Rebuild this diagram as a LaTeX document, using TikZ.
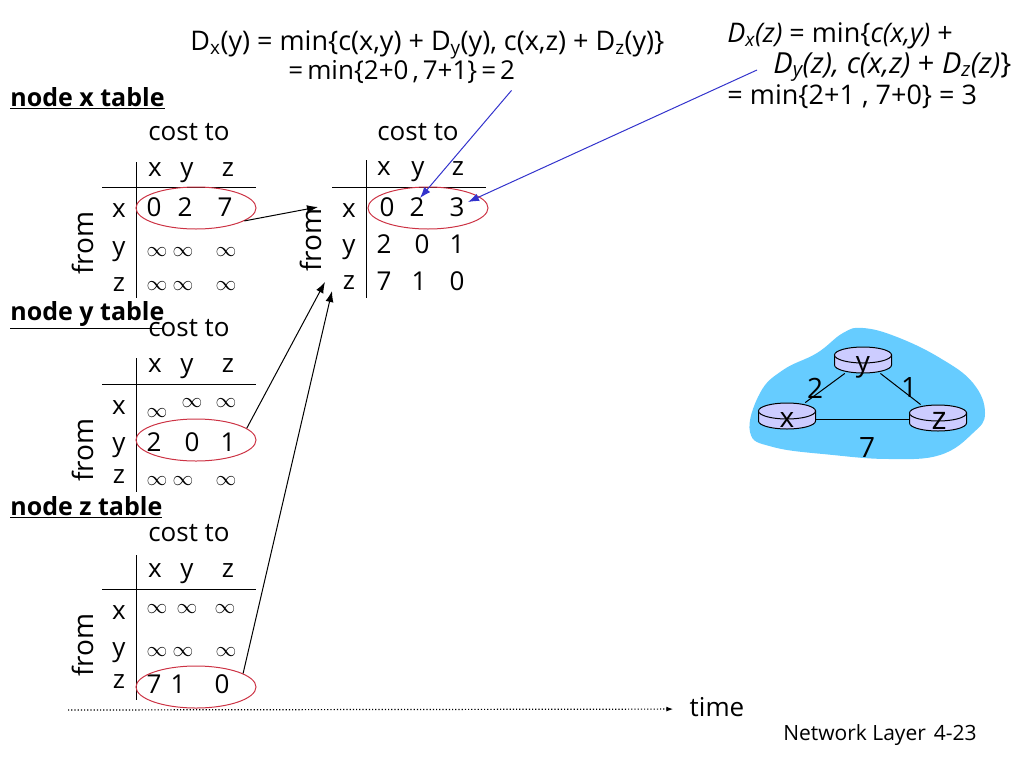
\documentclass[tikz,border=0pt]{standalone}
\usepackage{fontspec}
\setmainfont{Open Sans}
\usetikzlibrary{shapes.geometric,arrows.meta}
\definecolor{cloudblue}{HTML}{66CCFF}
\definecolor{routerlav}{HTML}{CCCCFF}
\definecolor{ringred}{HTML}{CC3344}
\definecolor{noteblue}{HTML}{3333CC}
\tikzset{
  cell/.style={inner sep=0pt, text height=17pt, text depth=1pt, font=\fontsize{26}{26}\selectfont},
  infcell/.style={inner sep=0pt, font=\fontsize{22}{22}\selectfont},
  fromlbl/.style={cell, rotate=90, font=\fontsize{28}{28}\selectfont},
  title/.style={inner sep=0pt, anchor=west, text height=17pt, text depth=0pt, font=\fontsize{25}{25}\selectfont\bfseries},
  note/.style={inner sep=0pt, anchor=west, text height=19pt, text depth=3pt, font=\fontsize{27}{27}\selectfont},
  ring/.style={draw=ringred, line width=1pt, ellipse, inner sep=0pt, minimum width=120pt, minimum height=42pt},
  routerhit/.style={inner sep=0pt, minimum width=57pt, minimum height=26pt},
  routerpic/.pic={
    \filldraw [fill=routerlav, line width=1pt] (-28.5,-5) -- (-28.5,5)
      arc [start angle=180, end angle=0, x radius=28.5, y radius=8] -- (28.5,-5) -- cycle;
    \filldraw [fill=routerlav, line width=1pt] (0,-5) ellipse [x radius=28.5, y radius=8];
  },
  netlbl/.style={inner sep=0pt, font=\fontsize{28}{28}\selectfont},
  netcost/.style={inner sep=0pt, font=\fontsize{28}{28}\selectfont},
  redge/.style={black, line width=1pt},
  toarrow/.style={-{Latex[length=11pt,width=8pt]}, line width=1pt},
  notearrow/.style={-{Latex[length=11pt,width=8pt]}, draw=noteblue, line width=1pt}
}
\begin{document}
\begin{tikzpicture}[x=1pt,y=-1pt,line width=0.9pt]
    \useasboundingbox (0,0) rectangle (1024,768);

    % network cloud
    \fill[cloudblue] plot[smooth cycle, tension=0.7] coordinates {(863,328) (897,337) (940,358)
      (973,383) (985,413) (973,433) (940,455) (890,459) (833,455) (773,447) (750,432)
      (760,393) (783,370) (817,353) (843,333)};
    \node [routerhit] (ry) at (863,360) {};
    \node [routerhit] (rx) at (787,416) {};
    \node [routerhit] (rz) at (938,418) {};
    \draw [redge] (ry) -- (rx);
    \draw [redge] (ry) -- (rz);
    \draw [redge] ([yshift=-3.5pt]rx.east) -- ([yshift=-1.5pt]rz.west);
    \pic at (ry) {routerpic};
    \pic at (rx) {routerpic};
    \pic at (rz) {routerpic};
    \node [netlbl] (lx) at (787,420) {x};
    \node [netlbl] (ly) at (863,367) {y};
    \node [netlbl, font=\fontsize{32}{32}\selectfont] (lz) at (939,421) {z};
    \node [netcost] (l2) at (815,388) {2};
    \node [netcost] (l1) at (909,388) {1};
    \node [netcost] (l7) at (867,447) {7};

    % formulas on top
    \node [note] (ymina) at (190,43) {D\textsubscript{x}(y) = min\{c(x,y) + D\textsubscript{y}(y), c(x,z) + D\textsubscript{z}(y)\}};
    \node [note, font=\fontsize{26}{26}\selectfont] (yminb) at (288,71) {\spaceskip=4pt = min\{2+0 , 7+1\} = 2};
    \node [note] (zmina) at (727,35) {\textit{D\textsubscript{x}(z)} = min\{\textit{c(x,y)} +};
    \node [note, font=\fontsize{29}{29}\selectfont] (zminb) at (773,65) {\textit{D\textsubscript{y}(z), c(x,z)} + \textit{D\textsubscript{z}(z)}\}};
    \node [note] (zminc) at (727,96) {= min\{2+1 , 7+0\} = 3};

    % node x table
    \node [title] (tx) at (10,98) {\underline{node x table}};
    \node [cell] (txcost) at (189,132) {cost to};
    \node [cell] (txhx) at (155,168) {x};
    \node [cell] (txhy) at (187,168) {y};
    \node [cell] (txhz) at (228,168) {z};
    \draw (102,187) -- (256,187);
    \draw (136,162) -- (136,298);
    \node [fromlbl] (txfrom) at (85,243) {from};
    \node [cell] (txrx) at (119,209) {x};
    \node [cell] (txry) at (119,247) {y};
    \node [cell] (txrz) at (119,283) {z};
    \node [cell] (txa) at (154,208) {0};
    \node [cell] (txb) at (185,208) {2};
    \node [cell] (txc) at (225,208) {7};
    \node [infcell] (txd) at (157,252) {$\infty$};
    \node [infcell] (txe) at (183,252) {$\infty$};
    \node [infcell] (txf) at (226,252) {$\infty$};
    \node [infcell] (txg) at (157,286) {$\infty$};
    \node [infcell] (txh) at (183,286) {$\infty$};
    \node [infcell] (txi) at (226,286) {$\infty$};
    \node [ring] (ex) at (196,208) {};

    % node x table, next step
    \node [cell] (bcost) at (418,132) {cost to};
    \node [cell] (bhx) at (384,167) {x};
    \node [cell] (bhy) at (418,167) {y};
    \node [cell] (bhz) at (458,167) {z};
    \draw (332,187) -- (486,187);
    \draw (366,160) -- (366,298);
    \node [fromlbl] (bfrom) at (313,240) {from};
    \node [cell] (brx) at (349,209) {x};
    \node [cell] (bry) at (349,245) {y};
    \node [cell] (brz) at (349,281) {z};
    \node [cell] (ba) at (387,208) {0};
    \node [cell] (bb) at (417,208) {2};
    \node [cell] (bc) at (457,208) {3};
    \node [cell] (bd) at (384,245) {2};
    \node [cell] (be) at (422,245) {0};
    \node [cell] (bf) at (457,245) {1};
    \node [cell] (bg) at (384,282) {7};
    \node [cell] (bh) at (419,282) {1};
    \node [cell] (bi) at (457,282) {0};
    \node [ring] (eb) at (428,208) {};

    % node y table
    \node [title] (ty) at (10,312) {\underline{node y table}};
    \node [cell] (tycost) at (189,328) {cost to};
    \node [cell] (tyhx) at (155,364) {x};
    \node [cell] (tyhy) at (187,364) {y};
    \node [cell] (tyhz) at (228,364) {z};
    \draw (102,384) -- (256,384);
    \draw (136,358) -- (136,492);
    \node [fromlbl] (tyfrom) at (85,450) {from};
    \node [cell] (tyrx) at (119,406) {x};
    \node [cell] (tyry) at (119,443) {y};
    \node [cell] (tyrz) at (119,475) {z};
    \node [infcell] (tya) at (157,413) {$\infty$};
    \node [infcell] (tyb) at (192,403) {$\infty$};
    \node [infcell] (tyc) at (226,403) {$\infty$};
    \node [cell] (tyd) at (154,443) {2};
    \node [cell] (tye) at (192,443) {0};
    \node [cell] (tyf) at (228,443) {1};
    \node [infcell] (tyg) at (157,481) {$\infty$};
    \node [infcell] (tyh) at (183,481) {$\infty$};
    \node [infcell] (tyi) at (226,481) {$\infty$};
    \node [ring] (ey) at (196,440) {};

    % node z table
    \node [title] (tz) at (10,507) {\underline{node z table}};
    \node [cell] (tzcost) at (189,533) {cost to};
    \node [cell] (tzhx) at (155,569) {x};
    \node [cell] (tzhy) at (187,569) {y};
    \node [cell] (tzhz) at (228,569) {z};
    \draw (102,589) -- (256,589);
    \draw (136,555) -- (136,700);
    \node [fromlbl] (tzfrom) at (85,645) {from};
    \node [cell] (tzrx) at (119,611) {x};
    \node [cell] (tzry) at (119,648) {y};
    \node [cell] (tzrz) at (119,680) {z};
    \node [infcell] (tza) at (157,609) {$\infty$};
    \node [infcell] (tzb) at (187,609) {$\infty$};
    \node [infcell] (tzc) at (225,609) {$\infty$};
    \node [infcell] (tzd) at (157,652) {$\infty$};
    \node [infcell] (tze) at (183,652) {$\infty$};
    \node [infcell] (tzf) at (226,652) {$\infty$};
    \node [cell] (tzg) at (154,685) {7};
    \node [cell] (tzh) at (178,685) {1};
    \node [cell] (tzi) at (222,685) {0};
    \node [ring] (ez) at (196,687) {};

    % arrows
    \coordinate (inx) at (318,207);
    \coordinate (iny) at (325,282);
    \coordinate (inz) at (332,291);
    \draw [toarrow] (ex.-15) -- (inx);
    \draw [toarrow] (ey.13) -- (iny);
    \draw [toarrow] (ez.16) -- (inz);
    \coordinate (zfoot) at (757,70);
    \coordinate (ytip) at (420,198);
    \coordinate (ztip) at (468,202);
    \draw [notearrow] ([shift={(-4,8)}]yminb.south east) -- (ytip);
    \draw [notearrow] (zfoot) -- (ztip);

    % time line
    \coordinate (tstart) at (68,710);
    \node [cell, inner xsep=16pt, text height=14pt, text depth=0pt] (timelbl) at (717,709) {time};
    \draw [-{Latex[length=7pt,width=5pt]}, line width=1.2pt, dotted] (tstart) -- (timelbl);
    \node [inner sep=0pt, font=\fontsize{21}{21}\selectfont] (pagelbl) at (880,735) {Network Layer\hspace{8pt}4-23};
\end{tikzpicture}
\end{document}
